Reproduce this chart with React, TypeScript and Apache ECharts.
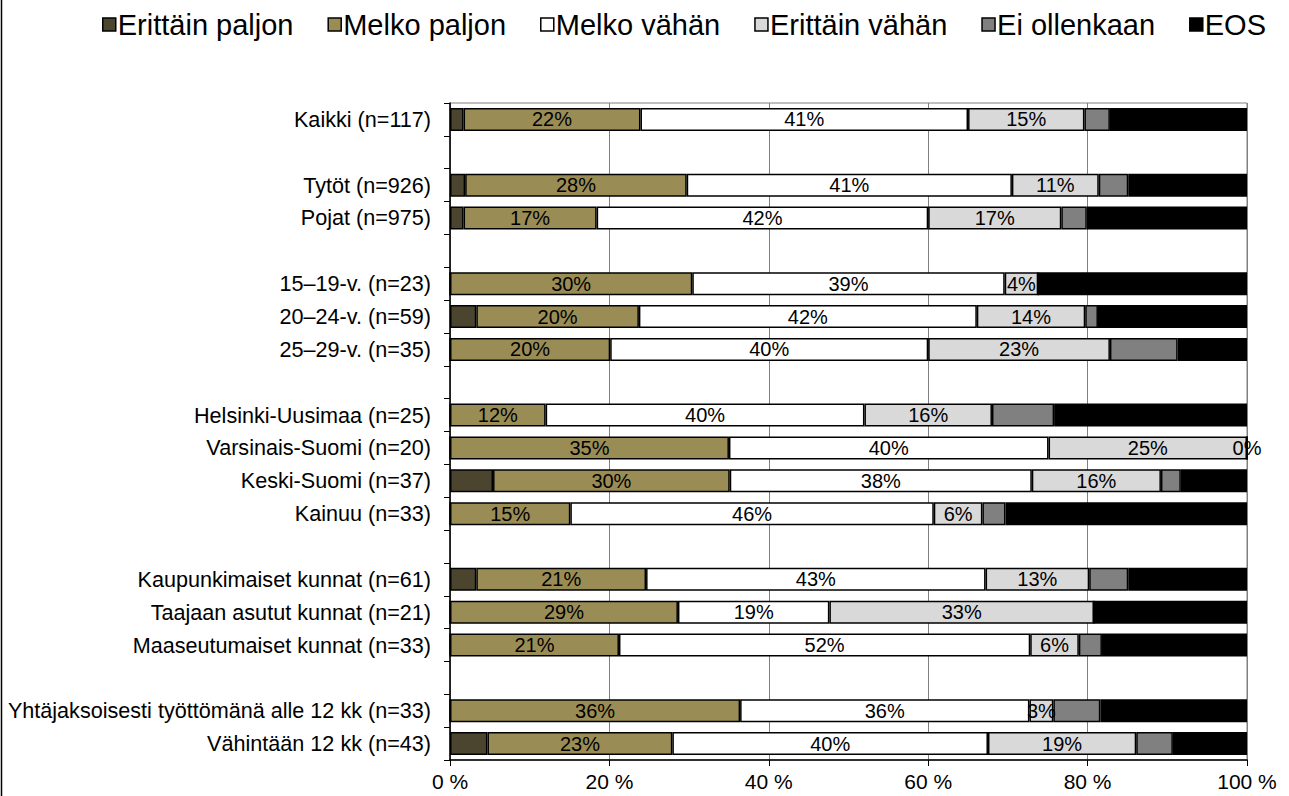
import React, { useEffect, useRef } from "react";
import * as echarts from "echarts";

const categories = [
  "Kaikki (n=117)",
  "",
  "Tytöt (n=926)",
  "Pojat (n=975)",
  "",
  "15–19-v. (n=23)",
  "20–24-v. (n=59)",
  "25–29-v. (n=35)",
  "",
  "Helsinki-Uusimaa (n=25)",
  "Varsinais-Suomi (n=20)",
  "Keski-Suomi (n=37)",
  "Kainuu (n=33)",
  "",
  "Kaupunkimaiset kunnat (n=61)",
  "Taajaan asutut kunnat (n=21)",
  "Maaseutumaiset kunnat (n=33)",
  "",
  "Yhtäjaksoisesti työttömänä alle 12 kk (n=33)",
  "Vähintään 12 kk (n=43)",
];

const seriesNames = ["Erittäin paljon", "Melko paljon", "Melko vähän", "Erittäin vähän", "Ei ollenkaan", "EOS"];
const seriesColors = ["#4b4530", "#9a8c55", "#ffffff", "#d9d9d9", "#808080", "#000000"];
const labeledSeries = [false, true, true, true, false, false];

const erittainPaljon = [1.7, null, 1.9, 1.7, null, 0, 3.3, 0, null, 0, 0, 5.4, 0, null, 3.3, 0, 0, null, 0, 4.7];
const melkoPaljon = [22.2, null, 27.8, 16.7, null, 30.4, 20.4, 20.1, null, 12.0, 35.0, 29.7, 15.1, null, 21.3, 28.6, 21.2, null, 36.4, 23.2];
const melkoVahan = [41.1, null, 40.8, 41.6, null, 39.2, 42.4, 39.9, null, 40.0, 40.1, 37.9, 45.6, null, 42.6, 19.0, 51.6, null, 36.3, 39.6];
const erittainVahan = [14.6, null, 10.9, 16.7, null, 4.2, 13.6, 22.8, null, 16.0, 24.9, 16.2, 6.1, null, 13.0, 33.2, 6.1, null, 3.0, 18.6];
const eiOllenkaan = [3.2, null, 3.7, 3.2, null, 0, 1.6, 8.5, null, 7.8, 0, 2.5, 2.9, null, 4.9, 0, 2.9, null, 5.9, 4.6];
const eos = [17.2, null, 14.9, 20.1, null, 26.2, 18.7, 8.7, null, 24.2, 0, 8.3, 30.3, null, 14.9, 19.2, 18.2, null, 18.4, 9.3];

// rows where a zero-valued segment still shows its label (Varsinais-Suomi "0%")
const zeroLabelRows: Record<number, number[]> = { 4: [10] };

const xTicks = [0, 20, 40, 60, 80, 100];

const FONT = "'Liberation Sans', Arial, sans-serif";

export default function App() {
  const ref = useRef<HTMLDivElement>(null);

  useEffect(() => {
    document.body.style.margin = "0";
    if (!ref.current) return;
    const chart = echarts.init(ref.current, undefined, { renderer: "svg" });
    const allData = [erittainPaljon, melkoPaljon, melkoVahan, erittainVahan, eiOllenkaan, eos];
    const keys = categories.map((c, i) => (c === "" ? "__gap" + i : c));

    const series = allData.map((arr, si) => ({
      name: seriesNames[si],
      type: "bar",
      stack: "total",
      barWidth: 23,
      itemStyle: { color: seriesColors[si], borderColor: "#000", borderWidth: 1.5 },
      label: {
        show: labeledSeries[si],
        position: "inside",
        color: "#000",
        fontFamily: FONT,
        fontSize: 20,
        formatter: (p: any) => Math.round(p.value) + "%",
      },
      data: arr.map((v, i) => {
        if (v === null) return "-";
        if (zeroLabelRows[si] && zeroLabelRows[si].includes(i)) {
          return { value: v, label: { show: true, formatter: Math.round(v) + "%" } };
        }
        return v;
      }),
    }));

    chart.setOption({
      animation: false,
      backgroundColor: "#fff",
      textStyle: { fontFamily: FONT },
      legend: {
        top: 5,
        left: 97,
        itemWidth: 13,
        itemHeight: 13,
        itemGap: 34,
        icon: "rect",
        textStyle: { fontSize: 29, color: "#000", fontFamily: FONT, padding: [0, 0, 0, -3] },
        itemStyle: { borderColor: "#000", borderWidth: 1.5 },
        data: seriesNames,
      },
      grid: {
        left: 450,
        right: 42,
        top: 103,
        bottom: 36,
        show: true,
        borderColor: "#808080",
        borderWidth: 1,
      },
      xAxis: {
        type: "value",
        min: 0,
        max: 100,
        interval: 20,
        axisLine: { show: true, lineStyle: { color: "#000", width: 1.5 } },
        axisTick: { show: true, length: 6, lineStyle: { color: "#000" } },
        splitLine: { show: true, lineStyle: { color: "#808080", width: 1 } },
        axisLabel: {
          color: "#000",
          fontSize: 21,
          fontFamily: FONT,
          margin: 11,
          formatter: (v: number) => (xTicks.includes(v) ? v + " %" : ""),
        },
      },
      yAxis: {
        type: "category",
        inverse: true,
        data: keys,
        axisLine: { show: true, lineStyle: { color: "#000", width: 1.5 } },
        axisTick: { show: true, length: 6, inside: false, lineStyle: { color: "#000" } },
        axisLabel: {
          color: "#000",
          fontSize: 21.6,
          fontFamily: FONT,
          margin: 19,
          formatter: (_v: string, i: number) => categories[i],
        },
      },
      graphic: [
        {
          type: "line",
          shape: { x1: 1.5, y1: 0, x2: 1.5, y2: 796 },
          style: { stroke: "#000", lineWidth: 1.5 },
          silent: true,
        },
      ],
      series,
    });
    return () => chart.dispose();
  }, []);

  return <div ref={ref} style={{ position: "absolute", left: 0, top: 0, width: 1289, height: 796 }} />;
}
